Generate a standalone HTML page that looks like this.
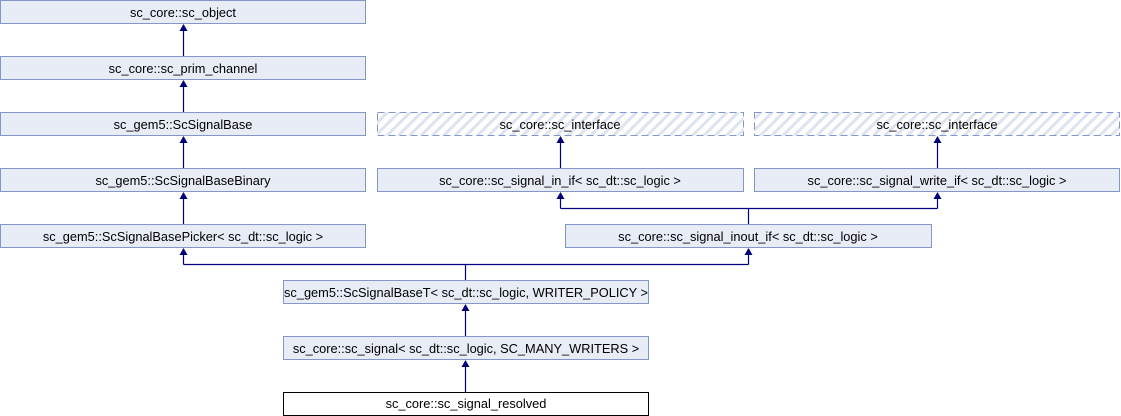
<!DOCTYPE html>
<html><head><meta charset="utf-8"><style>body{margin:0;background:#fff}svg{display:block}text{font-family:"Liberation Sans",sans-serif;font-size:12.8px;fill:#000;text-anchor:middle}</style></head><body>
<svg width="1121" height="416" viewBox="0 0 1121 416" xmlns="http://www.w3.org/2000/svg">
<defs>
<pattern id="h" width="8" height="8" patternUnits="userSpaceOnUse" patternTransform="rotate(-45)"><rect width="8" height="8" fill="#fff"/><rect width="8" height="3" fill="#dde3ef"/></pattern>
</defs>
<g fill="#e8ecf6" stroke="#8497c9" stroke-width="1">
<rect x="0.5" y="0.5" width="365" height="23"/>
<rect x="0.5" y="56.5" width="365" height="23"/>
<rect x="0.5" y="112.5" width="365" height="23"/>
<rect x="0.5" y="168.5" width="365" height="23"/>
<rect x="0.5" y="224.5" width="365" height="23"/>
<rect x="377.5" y="168.5" width="366" height="23"/>
<rect x="754.5" y="168.5" width="365" height="23"/>
<rect x="565.5" y="224.5" width="366" height="23"/>
<rect x="283.5" y="280.5" width="365" height="23"/>
<rect x="283.5" y="336.5" width="365" height="23"/>
</g>
<g fill="url(#h)" stroke="#8497c9" stroke-dasharray="7,4">
<rect x="377.5" y="112.5" width="366" height="23"/>
<rect x="754.5" y="112.5" width="365" height="23"/>
</g>
<rect x="283.5" y="392.5" width="365" height="23" fill="#fff" stroke="#000"/>
<g stroke="#000080" stroke-width="1.2" fill="none">
<line x1="183.5" y1="56" x2="183.5" y2="30"/>
<line x1="183.5" y1="112" x2="183.5" y2="86"/>
<line x1="183.5" y1="168" x2="183.5" y2="142"/>
<line x1="183.5" y1="224" x2="183.5" y2="198"/>
<line x1="560.5" y1="168" x2="560.5" y2="142"/>
<line x1="937.5" y1="168" x2="937.5" y2="142"/>
<line x1="748.5" y1="224" x2="748.5" y2="208.5"/>
<line x1="560.5" y1="208.5" x2="937.5" y2="208.5"/>
<line x1="560.5" y1="208.5" x2="560.5" y2="198"/>
<line x1="937.5" y1="208.5" x2="937.5" y2="198"/>
<line x1="465.5" y1="280" x2="465.5" y2="264.5"/>
<line x1="183.5" y1="264.5" x2="748.5" y2="264.5"/>
<line x1="183.5" y1="264.5" x2="183.5" y2="254"/>
<line x1="748.5" y1="264.5" x2="748.5" y2="254"/>
<line x1="465.5" y1="336" x2="465.5" y2="310"/>
<line x1="465.5" y1="392" x2="465.5" y2="366"/>
</g>
<g fill="#000080">
<path d="M179.5,31 L183.5,24 L187.5,31Z"/>
<path d="M179.5,87 L183.5,80 L187.5,87Z"/>
<path d="M179.5,143 L183.5,136 L187.5,143Z"/>
<path d="M179.5,199 L183.5,192 L187.5,199Z"/>
<path d="M556.5,143 L560.5,136 L564.5,143Z"/>
<path d="M933.5,143 L937.5,136 L941.5,143Z"/>
<path d="M556.5,199 L560.5,192 L564.5,199Z"/>
<path d="M933.5,199 L937.5,192 L941.5,199Z"/>
<path d="M179.5,255 L183.5,248 L187.5,255Z"/>
<path d="M744.5,255 L748.5,248 L752.5,255Z"/>
<path d="M461.5,311 L465.5,304 L469.5,311Z"/>
<path d="M461.5,367 L465.5,360 L469.5,367Z"/>
</g>
<text x="183" y="17">sc_core::sc_object</text>
<text x="183" y="73">sc_core::sc_prim_channel</text>
<text x="183" y="129">sc_gem5::ScSignalBase</text>
<text x="183" y="185">sc_gem5::ScSignalBaseBinary</text>
<text x="183" y="241">sc_gem5::ScSignalBasePicker&lt; sc_dt::sc_logic &gt;</text>
<text x="560" y="129">sc_core::sc_interface</text>
<text x="937" y="129">sc_core::sc_interface</text>
<text x="560" y="185">sc_core::sc_signal_in_if&lt; sc_dt::sc_logic &gt;</text>
<text x="937" y="185">sc_core::sc_signal_write_if&lt; sc_dt::sc_logic &gt;</text>
<text x="748" y="241">sc_core::sc_signal_inout_if&lt; sc_dt::sc_logic &gt;</text>
<text x="466" y="297">sc_gem5::ScSignalBaseT&lt; sc_dt::sc_logic, WRITER_POLICY &gt;</text>
<text x="466" y="353">sc_core::sc_signal&lt; sc_dt::sc_logic, SC_MANY_WRITERS &gt;</text>
<text x="466" y="408">sc_core::sc_signal_resolved</text>
</svg>
</body></html>
